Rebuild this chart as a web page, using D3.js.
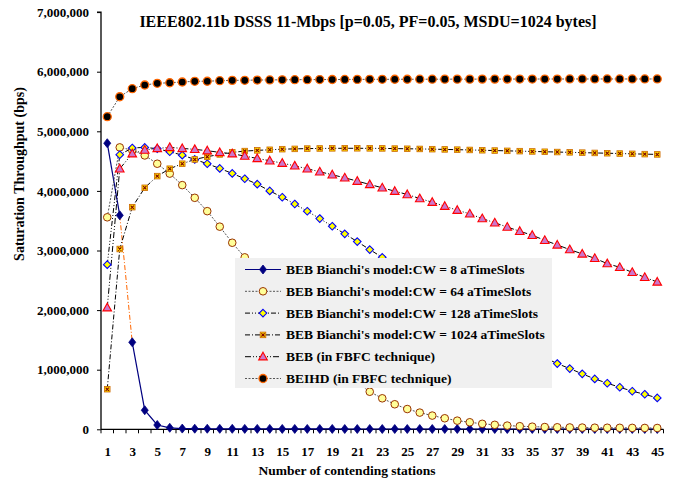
<!DOCTYPE html>
<html>
<head>
<meta charset="utf-8">
<script src="https://cdn.jsdelivr.net/npm/d3@7"></script>
<style>
  html, body { margin: 0; padding: 0; background: #fff; }
  svg { display: block; font-family: "Liberation Serif", "Times New Roman", serif; }
</style>
</head>
<body>
<svg id="chart" width="682" height="487"></svg>
<script>
// Number of contending stations (category axis)
const stations = [1,2,3,4,5,6,7,8,9,10,11,12,13,14,15,16,17,18,19,20,21,22,23,24,25,26,27,28,29,30,31,32,33,34,35,36,37,38,39,40,41,42,43,44,45];

// Saturation throughput in bps
const bebCw8 = [4800000,3590000,1460000,320000,72000,25000,12000,10000,9000,8000,8000,7000,7000,7000,6000,6000,6000,6000,6000,5000,5000,5000,5000,5000,5000,5000,5000,5000,5000,5000,5000,5000,5000,5000,5000,5000,5000,5000,5000,5000,5000,5000,5000,5000,5000];
const bebCw64 = [3557000,4730000,4685000,4595000,4456000,4290000,4097000,3884000,3660000,3400000,3130000,2885000,2620000,2350000,2080000,1820000,1570000,1340000,1130000,950000,780000,630000,520000,420000,340000,280000,230000,185000,145000,118000,92000,75000,62000,52000,44000,38000,34000,31000,29000,27000,26000,25000,24000,23000,22000];
const bebCw128 = [2762000,4607000,4720000,4730000,4708000,4657000,4600000,4528000,4456000,4377000,4293000,4204000,4113000,4000000,3894000,3780000,3659000,3536000,3407000,3279000,3149000,3015000,2885000,2755000,2622000,2486000,2348000,2209000,2070000,1932000,1796000,1664000,1537000,1417000,1305000,1202000,1103000,1019000,930000,846000,773000,706000,639000,588000,526000];
const bebCw1024 = [673000,3025000,3727000,4052000,4248000,4372000,4456000,4528000,4574000,4612000,4646000,4668000,4680000,4690000,4700000,4705000,4710000,4712000,4714000,4715000,4715000,4714000,4713000,4710000,4707000,4704000,4700000,4696000,4692000,4687000,4682000,4677000,4672000,4667000,4662000,4657000,4652000,4647000,4642000,4637000,4632000,4627000,4622000,4617000,4612000];
const bebFbfc = [2040000,4372000,4624000,4685000,4713000,4730000,4713000,4697000,4675000,4646000,4624000,4584000,4545000,4506000,4466000,4420000,4372000,4321000,4271000,4220000,4164000,4108000,4052000,3995000,3940000,3872000,3810000,3743000,3676000,3615000,3536000,3465000,3394000,3323000,3256000,3171000,3094000,3015000,2943000,2869000,2780000,2718000,2634000,2550000,2472000];
const beihdFbfc = [5245000,5580000,5715000,5777000,5805000,5815000,5827000,5839000,5840000,5849000,5855000,5856000,5860000,5862000,5864000,5866000,5867000,5868000,5869000,5870000,5871000,5872000,5872000,5873000,5873000,5874000,5874000,5875000,5875000,5875000,5876000,5876000,5876000,5877000,5877000,5877000,5877000,5878000,5878000,5878000,5878000,5878000,5878000,5878000,5878000];

const yTicks = [0,1000000,2000000,3000000,4000000,5000000,6000000,7000000];
const xTickLabels = [1,3,5,7,9,11,13,15,17,19,21,23,25,27,29,31,33,35,37,39,41,43,45];

const seriesNames = [
  "BEB Bianchi's model:CW = 8 aTimeSlots",
  "BEB Bianchi's model:CW = 64 aTimeSlots",
  "BEB Bianchi's model:CW = 128 aTimeSlots",
  "BEB Bianchi's model:CW = 1024 aTimeSlots",
  "BEB (in FBFC technique)",
  "BEIHD (in FBFC technique)"
];

const titleText = "IEEE802.11b DSSS 11-Mbps [p=0.05, PF=0.05, MSDU=1024 bytes]";
const xTitle = "Number of contending stations";
const yTitle = "Saturation Throughput (bps)";

const svg = d3.select("#chart");
const plot = { left: 101, right: 663.5, top: 12.1, bottom: 429.3 };

const x = d3.scalePoint().domain(stations).range([plot.left, plot.right]).padding(0.5);
const y = d3.scaleLinear().domain([0, 7000000]).range([plot.bottom, plot.top]);
const step = x.step();

// styles per series
const styles = [
  { line: "#000080", dash: null, width: 1.2, marker: "diamondNavy" },
  { line: "#555555", dash: "2,1.5", width: 1, marker: "circle64" },
  { line: "#000000", dash: "5,2,1,2,1,2", width: 1, marker: "diamond128" },
  { line: "#000000", dash: "5,2,1,2", width: 1, marker: "square1024" },
  { line: "#000000", dash: "6,2,1,2,1,2", width: 1, marker: "triangle" },
  { line: "#555555", dash: "2,1.5", width: 1, marker: "circleBlack" }
];
const seriesData = [bebCw8, bebCw64, bebCw128, bebCw1024, bebFbfc, beihdFbfc];

function drawMarker(g, kind, cx, cy) {
  if (kind === "diamondNavy") {
    g.append("path").attr("d", `M${cx},${cy-4.5}L${cx+3.5},${cy}L${cx},${cy+4.5}L${cx-3.5},${cy}Z`)
      .attr("fill", "#000080").attr("stroke", "#000080").attr("stroke-width", 0.8);
  } else if (kind === "circle64") {
    g.append("circle").attr("cx", cx).attr("cy", cy).attr("r", 3.8)
      .attr("fill", "#ffff99").attr("stroke", "#993300").attr("stroke-width", 1);
  } else if (kind === "diamond128") {
    g.append("path").attr("d", `M${cx},${cy-3.8}L${cx+3.8},${cy}L${cx},${cy+3.8}L${cx-3.8},${cy}Z`)
      .attr("fill", "#ffff00").attr("stroke", "#0000ff").attr("stroke-width", 1.1);
  } else if (kind === "square1024") {
    g.append("rect").attr("x", cx-2.8).attr("y", cy-2.8).attr("width", 5.6).attr("height", 5.6)
      .attr("fill", "#ffdd00").attr("stroke", "#cc6600").attr("stroke-width", 0.8);
    g.append("path").attr("d", `M${cx-1.6},${cy-1.6}L${cx+1.6},${cy+1.6}M${cx+1.6},${cy-1.6}L${cx-1.6},${cy+1.6}`)
      .attr("stroke", "#800000").attr("stroke-width", 1.1);
  } else if (kind === "triangle") {
    g.append("path").attr("d", `M${cx},${cy-4.5}L${cx+4.3},${cy+3.2}L${cx-4.3},${cy+3.2}Z`)
      .attr("fill", "#cc77cc").attr("stroke", "#ff0000").attr("stroke-width", 1.1);
  } else if (kind === "circleBlack") {
    g.append("circle").attr("cx", cx).attr("cy", cy).attr("r", 4)
      .attr("fill", "#000000").attr("stroke", "#ff6600").attr("stroke-width", 1.3);
  }
}

// Chart title
svg.append("text").attr("x", 368).attr("y", 27).attr("text-anchor", "middle")
  .attr("font-size", "16px").attr("font-weight", "bold").text(titleText);

// Y axis
const yAxis = d3.axisLeft(y).tickValues(yTicks).tickFormat(d3.format(",")).tickSize(4).tickPadding(8);
const yG = svg.append("g").attr("transform", `translate(${plot.left},0)`).call(yAxis);
yG.select(".domain").attr("stroke", "#000").attr("stroke-width", 1.3).attr("d", `M-4,${plot.top}H0V${plot.bottom}`);
yG.selectAll("text").attr("font-size", "13px").attr("font-weight", "bold")
  .attr("font-family", "Liberation Serif, serif").attr("fill", "#000");

// X axis: ticks at category boundaries, labels on odd stations
const xAxis = d3.axisBottom(x).tickValues(xTickLabels).tickSize(0).tickPadding(17);
const xG = svg.append("g").attr("transform", `translate(0,${plot.bottom})`).call(xAxis);
xG.select(".domain").attr("stroke", "#000").attr("stroke-width", 1.3).attr("d", `M${plot.left},0H${plot.right}`);
xG.selectAll("text").attr("font-size", "13px").attr("font-weight", "bold")
  .attr("font-family", "Liberation Serif, serif").attr("fill", "#000");
xG.selectAll(".xb").data(d3.range(stations.length + 1)).join("line")
  .attr("x1", i => plot.left + i * step).attr("x2", i => plot.left + i * step)
  .attr("y1", 0).attr("y2", 4).attr("stroke", "#000").attr("stroke-width", 1);

// Axis titles
svg.append("text").attr("x", 347).attr("y", 475).attr("text-anchor", "middle")
  .attr("font-size", "13.5px").attr("font-weight", "bold").text(xTitle);
svg.append("text").attr("transform", "translate(24,174) rotate(-90)").attr("text-anchor", "middle")
  .attr("font-size", "14px").attr("font-weight", "bold").text(yTitle);

// Lines
const lineGen = d3.line().x(d => x(d.s)).y(d => y(d.v));
const linesG = svg.append("g");
seriesData.forEach((vals, k) => {
  const pts = stations.map((s, i) => ({ s, v: vals[i] }));
  const st = styles[k];
  if (k === 0) {
    // the 2 -> 3 segment of the CW = 8 curve is drawn in an orange dash
    const parts = [pts.slice(0, 2), pts.slice(2)];
    parts.forEach(p => linesG.append("path").attr("d", lineGen(p)).attr("fill", "none")
      .attr("stroke", st.line).attr("stroke-width", st.width));
    linesG.append("path").attr("d", lineGen(pts.slice(1, 3))).attr("fill", "none")
      .attr("stroke", "#ff6600").attr("stroke-width", 1).attr("stroke-dasharray", "5,2,1,2");
  } else {
    linesG.append("path").attr("d", lineGen(pts)).attr("fill", "none")
      .attr("stroke", st.line).attr("stroke-width", st.width)
      .attr("stroke-dasharray", st.dash);
  }
});

// Markers (drawn series by series)
seriesData.forEach((vals, k) => {
  const g = svg.append("g");
  stations.forEach((s, i) => drawMarker(g, styles[k].marker, x(s), y(vals[i])));
});

// Legend
const lg = svg.append("g");
lg.append("rect").attr("x", 235).attr("y", 258).attr("width", 317).attr("height", 130).attr("fill", "#f0f0f0");
seriesNames.forEach((name, k) => {
  const ry = 269.5 + k * 21.8;
  const st = styles[k];
  lg.append("line").attr("x1", 245).attr("x2", 281).attr("y1", ry).attr("y2", ry)
    .attr("stroke", st.line).attr("stroke-width", st.width).attr("stroke-dasharray", st.dash);
  drawMarker(lg, st.marker, 263, ry);
  lg.append("text").attr("x", 286).attr("y", ry + 4.5).attr("font-size", "13.5px")
    .attr("font-weight", "bold").text(name);
});
</script>
</body>
</html>
